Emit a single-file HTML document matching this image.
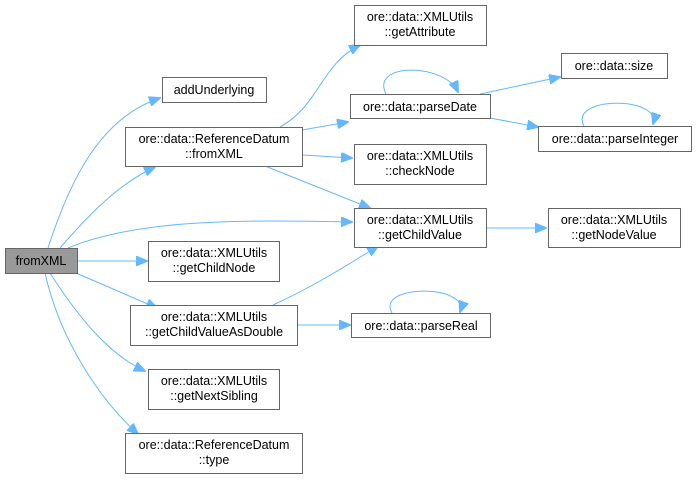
<!DOCTYPE html>
<html><head><meta charset="utf-8"><style>
html,body{margin:0;padding:0;background:#fff;}
svg{display:block;}
text{font-family:"Liberation Sans",Arial,sans-serif;font-size:12.5px;fill:#000;text-anchor:middle;}
.n{fill:#fff;stroke:#666;stroke-width:1;}
.e{fill:none;stroke:#63b8ff;stroke-width:1;}
.a{fill:#63b8ff;stroke:#63b8ff;}
</style></head><body>
<svg width="696" height="479" viewBox="0 0 696 479" xmlns="http://www.w3.org/2000/svg">
<defs><marker id="m" viewBox="0 0 12 10" refX="11" refY="5" markerWidth="12" markerHeight="10" markerUnits="userSpaceOnUse" orient="auto"><path d="M0,0 L12,5 L0,10 z" class="a"/></marker></defs>
<g class="e" marker-end="url(#m)">
<path d="M48,248 C70,180 100,118 160,98"/>
<path d="M60,248 C80,225 115,185 155,167"/>
<path d="M68,248 C140,218 250,220 352,222"/>
<path d="M77,261 L147,261"/>
<path d="M76,273 L157,308"/>
<path d="M50,273 C80,320 110,355 145,371"/>
<path d="M45,273 C60,340 100,400 138,434"/>
<path d="M280,127 C320,105 320,65 360,45"/>
<path d="M302,130 L348,122"/>
<path d="M302,155 L352,158"/>
<path d="M265,166 L370,208"/>
<path d="M273,305 C310,288 340,270 378,246"/>
<path d="M297,325 L350,325"/>
<path d="M486,228 L546,228"/>
<path d="M480,94 L560,77"/>
<path d="M490,118 L538,127"/>
<path d="M386,94 C370,62 445,63 458,92"/>
<path d="M584,126 C568,96 662,96 653,124"/>
<path d="M392,313 C375,284 470,284 460,312"/>
</g>
<rect class="n" x="5.5" y="248.5" width="72" height="25" style="fill:#999"/><text x="41" y="265">fromXML</text>
<rect class="n" x="162.5" y="77.5" width="104" height="25"/><text x="214" y="94">addUnderlying</text>
<rect class="n" x="125.5" y="127.5" width="177" height="39"/><text x="214" y="143">ore::data::ReferenceDatum</text><text x="214" y="158">::fromXML</text>
<rect class="n" x="148.5" y="241.5" width="131" height="40"/><text x="214" y="257">ore::data::XMLUtils</text><text x="214" y="272">::getChildNode</text>
<rect class="n" x="130.5" y="305.5" width="167" height="40"/><text x="214" y="321">ore::data::XMLUtils</text><text x="214" y="336">::getChildValueAsDouble</text>
<rect class="n" x="148.5" y="369.5" width="131" height="40"/><text x="214" y="385">ore::data::XMLUtils</text><text x="214" y="400">::getNextSibling</text>
<rect class="n" x="125.5" y="433.5" width="177" height="40"/><text x="214" y="449">ore::data::ReferenceDatum</text><text x="214" y="464">::type</text>
<rect class="n" x="354.5" y="5.5" width="132" height="40"/><text x="420" y="21">ore::data::XMLUtils</text><text x="420" y="36">::getAttribute</text>
<rect class="n" x="350.5" y="94.5" width="140" height="24"/><text x="420" y="111">ore::data::parseDate</text>
<rect class="n" x="354.5" y="144.5" width="132" height="40"/><text x="420" y="160">ore::data::XMLUtils</text><text x="420" y="175">::checkNode</text>
<rect class="n" x="354.5" y="208.5" width="132" height="39"/><text x="420" y="224">ore::data::XMLUtils</text><text x="420" y="239">::getChildValue</text>
<rect class="n" x="351.5" y="313.5" width="139" height="24"/><text x="421" y="330">ore::data::parseReal</text>
<rect class="n" x="561.5" y="53.5" width="106" height="25"/><text x="614" y="70">ore::data::size</text>
<rect class="n" x="538.5" y="126.5" width="153" height="25"/><text x="615" y="143">ore::data::parseInteger</text>
<rect class="n" x="548.5" y="208.5" width="132" height="39"/><text x="614" y="224">ore::data::XMLUtils</text><text x="614" y="239">::getNodeValue</text>
</svg>
</body></html>
